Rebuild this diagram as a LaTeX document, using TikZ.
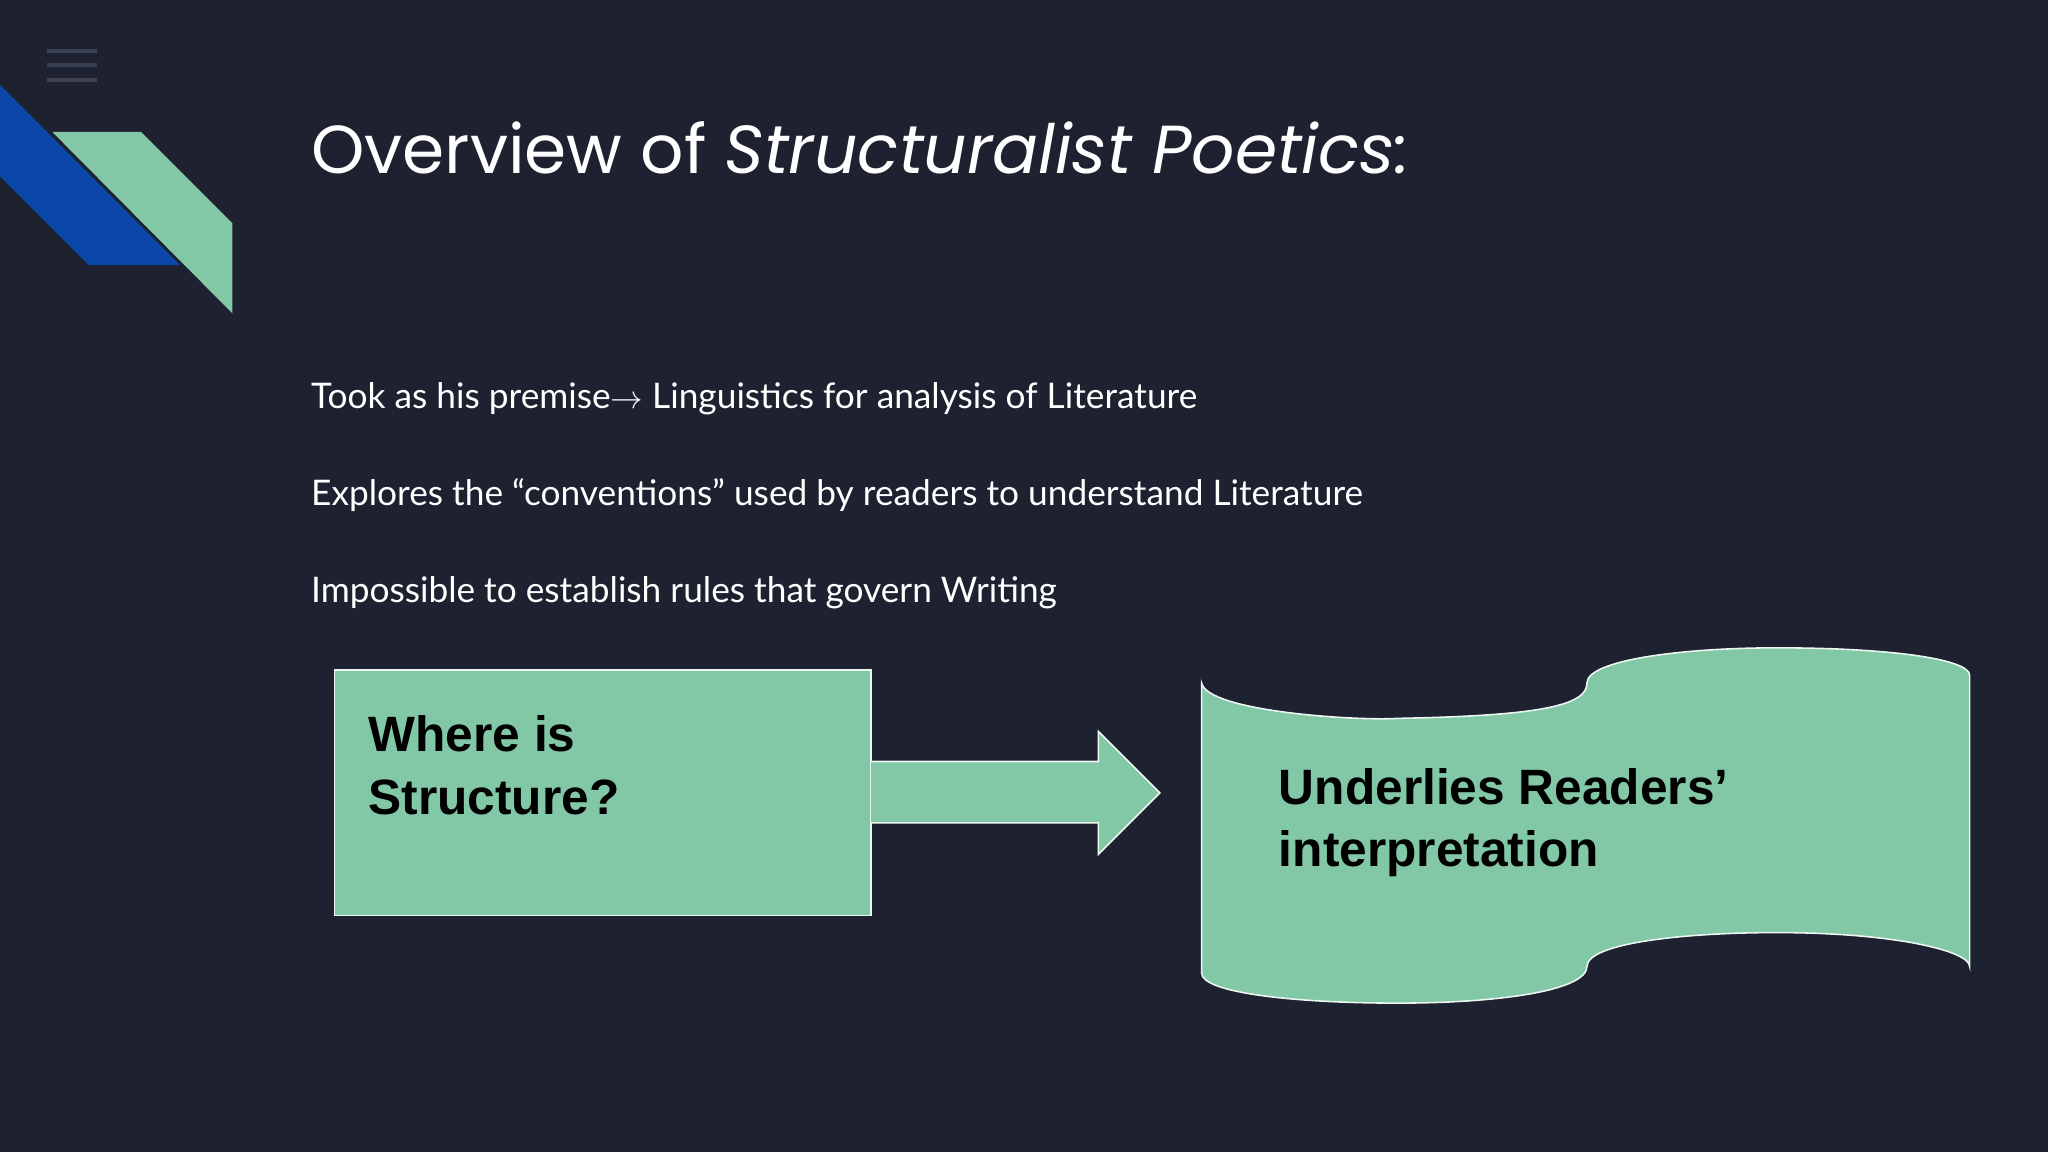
\documentclass[tikz,border=0pt]{standalone}
\usepackage{fontspec}
\setmainfont{Lato}
\newfontfamily\titlefont{Poppins}
\newfontfamily\boxfont{Liberation Sans}
\definecolor{bg}{HTML}{1E2130}
\definecolor{mint}{HTML}{82C8A6}
\definecolor{navy}{HTML}{0A47A8}
\definecolor{icon}{HTML}{3A4152}
\tikzset{
  shapebox/.style={fill=mint, draw=white!85!mint, line width=1.2pt},
  bodytext/.style={anchor=base west, text=white, font=\fontsize{27}{32}\selectfont, inner sep=0},
  boxtext/.style={anchor=north west, align=left, text=black, font=\boxfont\bfseries\fontsize{38}{48}\selectfont, inner sep=0}
}
\begin{document}
\begin{tikzpicture}[x=1pt,y=-1pt]
\fill[bg] (0,0) rectangle (1568,882);
\useasboundingbox (0,0) rectangle (1568,882);
% menu icon
\foreach \yy in {39,50,61} \draw[icon, line width=3pt] (36,\yy) -- (74,\yy);
% corner decoration
\fill[navy] (0,65) -- (138,203) -- (68,203) -- (0,135) -- cycle;
\fill[mint] (40,101) -- (108,101) -- (178,171) -- (178,240) -- cycle;
% title
\node[anchor=base west, text=white, inner sep=0, font=\titlefont\fontsize{52}{60}\selectfont] (title) at (238,133) {Overview of \textit{Structuralist Poetics:}};
% body
\node[bodytext] (l1) at (238,313) {Took as his premise$\rightarrow$ Linguistics for analysis of Literature};
\node[bodytext] (l2) at (238,387) {Explores the “conventions” used by readers to understand Literature};
\node[bodytext] (l3) at (238,461) {Impossible to establish rules that govern Writing};
% left box
\draw[shapebox] (256,513) rectangle (667,701);
\node[boxtext] (where) at (282,548) {Where is\\Structure?};
% arrow
\draw[shapebox] (667,583) -- (841,583) -- (841,560) -- (888,607) -- (841,654) -- (841,630) -- (667,630);
% punched tape
\draw[shapebox] (920,523)
  .. controls (925,545) and (1040,552) .. (1070,550)
  .. controls (1180,548) and (1215,540) .. (1215,523)
  .. controls (1215,505) and (1290,496) .. (1360,496)
  .. controls (1450,496) and (1508,505) .. (1508,517)
  -- (1508,740)
  .. controls (1508,728) and (1450,714) .. (1360,714)
  .. controls (1290,714) and (1215,722) .. (1215,740)
  .. controls (1215,758) and (1150,768) .. (1070,768)
  .. controls (990,768) and (920,760) .. (920,745) -- cycle;
\node[boxtext] (under) at (979,588) {Underlies Readers’\\interpretation};
\end{tikzpicture}
\end{document}
